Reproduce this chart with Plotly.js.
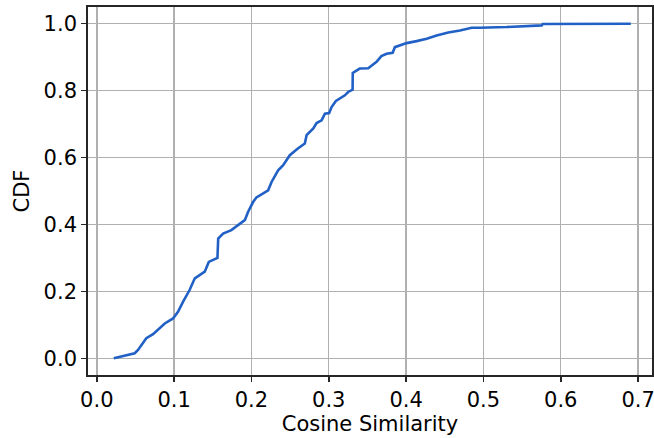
<!DOCTYPE html>
<html>
<head>
<meta charset="utf-8">
<script src="https://cdn.plot.ly/plotly-3.0.1.min.js"></script>
<style>html,body{margin:0;padding:0;background:#fff;}#chart{width:654px;height:438px;}</style>
</head>
<body>
<div id="chart"></div>
<script>
// Cosine similarity values (x) and cumulative fraction (y)
const similarity = [0.0219, 0.049, 0.0533, 0.064, 0.0727, 0.079, 0.0879, 0.0986, 0.105, 0.1116,
  0.120, 0.1267, 0.1396, 0.1448, 0.156, 0.157, 0.1633, 0.174, 0.1806, 0.1914,
  0.1957, 0.2021, 0.2065, 0.2216, 0.226, 0.2345, 0.241, 0.2487, 0.2496, 0.260,
  0.269, 0.2713, 0.280, 0.2842, 0.2907, 0.295, 0.3005, 0.3036, 0.3092, 0.3208,
  0.325, 0.3308, 0.3310, 0.340, 0.351, 0.3618, 0.368, 0.3748, 0.3826, 0.3855,
  0.4007, 0.4136, 0.4266, 0.4395, 0.4545, 0.4697, 0.4848, 0.4955, 0.530, 0.5754,
  0.5767, 0.6906];
const cdf = [0.000, 0.015, 0.025, 0.060, 0.072, 0.085, 0.104, 0.119, 0.139, 0.169,
  0.204, 0.239, 0.259, 0.288, 0.300, 0.358, 0.373, 0.383, 0.395, 0.413,
  0.438, 0.467, 0.481, 0.502, 0.527, 0.562, 0.577, 0.604, 0.607, 0.627,
  0.642, 0.667, 0.687, 0.703, 0.711, 0.731, 0.733, 0.751, 0.769, 0.786,
  0.796, 0.803, 0.853, 0.866, 0.867, 0.886, 0.903, 0.910, 0.913, 0.930,
  0.942, 0.948, 0.955, 0.965, 0.974, 0.980, 0.988, 0.988, 0.990, 0.995,
  0.999, 1.000];
const xTicks = [0.0, 0.1, 0.2, 0.3, 0.4, 0.5, 0.6, 0.7];
const xTickText = ["0.0", "0.1", "0.2", "0.3", "0.4", "0.5", "0.6", "0.7"];
const yTicks = [0.0, 0.2, 0.4, 0.6, 0.8, 1.0];
const yTickText = ["0.0", "0.2", "0.4", "0.6", "0.8", "1.0"];
const xLabel = "Cosine Similarity";
const yLabel = "CDF";

const fontFam = "DejaVu Sans, sans-serif";
const axisCommon = {
  showline: true, mirror: true, linecolor: "#262626", linewidth: 1.8,
  ticks: "outside", ticklen: 5, tickwidth: 1.5, tickcolor: "#262626",
  showgrid: true, gridcolor: "#b0b0b0", gridwidth: 1.4,
  zeroline: false, automargin: false, ticklabeloverflow: "allow",
  tickfont: {family: fontFam, size: 21, color: "#000"}
};

Plotly.newPlot("chart", [{
  x: similarity, y: cdf, type: "scatter", mode: "lines",
  line: {color: "#2160c4", width: 2.6}, showlegend: false, hoverinfo: "skip"
}], {
  width: 654, height: 438,
  margin: {l: 88, r: 2, t: 7, b: 63},
  paper_bgcolor: "#ffffff", plot_bgcolor: "#ffffff",
  font: {family: fontFam, color: "#000"},
  xaxis: Object.assign({}, axisCommon, {
    range: [-0.0114, 0.718], tickvals: xTicks, ticktext: xTickText,
    title: {text: xLabel, font: {family: fontFam, size: 21, color: "#000"}, standoff: 5}
  }),
  yaxis: Object.assign({}, axisCommon, {
    range: [-0.05, 1.05], tickvals: yTicks, ticktext: yTickText,
    title: {text: yLabel, font: {family: fontFam, size: 21, color: "#000"}, standoff: 8}
  })
}, {staticPlot: true, displayModeBar: false});
</script>
</body>
</html>
